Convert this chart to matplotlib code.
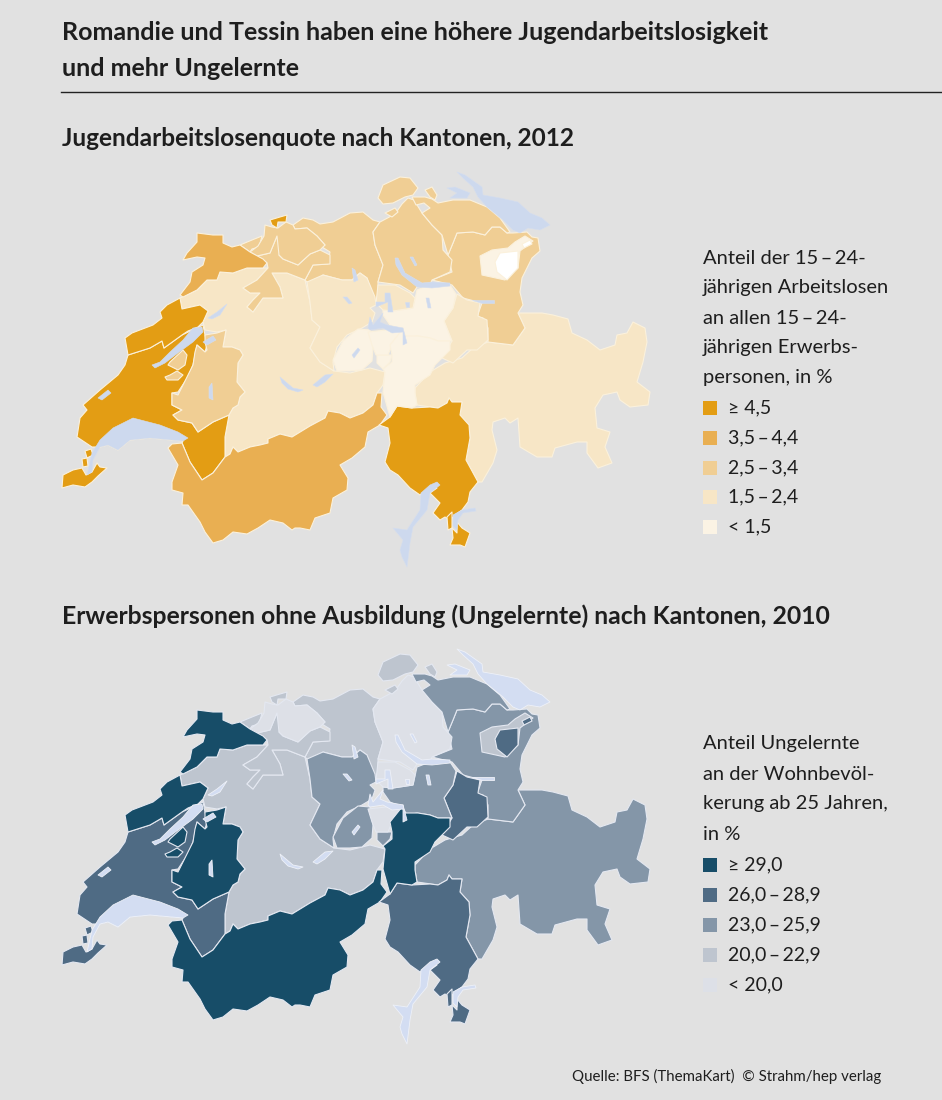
import matplotlib
matplotlib.use("Agg")
import matplotlib.pyplot as plt
from matplotlib.patches import Rectangle

# Canton outlines, in map units of the upper map (a canton can have several parts)
BE = [[(180,298),(197,290),(207,280),(217,280),(220,272),(233,273),(247,268),(263,268),(268,268),(257,280),(243,288),(250,293),(260,293),(253,300),(247,307),(253,312),(263,298),(283,298),(280,287),(272,273),(287,273),(305,280),(310,302),(312,320),(320,327),(310,348),(320,362),(334,371),(350,373),(370,368),(385,372),(383,385),(377,393),(373,405),(363,413),(350,418),(340,413),(328,411),(325,418),(310,426),(292,437),(280,434),(268,439),(268,443),(260,445),(250,447),(238,452),(233,447),(230,454),(225,457),(225,437),(229,415),(233,408),(238,405),(240,397),(245,392),(237,382),(238,363),(243,355),(240,350),(232,347),(223,347),(226,330),(217,332),(205,330),(203,322),(208,311),(200,305),(182,309)]]
VD = [[(128,355),(125,365),(118,375),(100,390),(83,405),(87,410),(80,418),(77,437),(92,447),(100,447),(108,445),(118,450),(130,440),(150,438),(183,441),(182,443),(190,462),(202,480),(213,473),(225,457),(225,437),(229,415),(213,422),(198,432),(192,423),(178,420),(173,415),(182,410),(172,405),(172,393),(178,392),(188,377),(193,365),(197,345),(205,352),(207,345),(205,335),(203,325),(182,335),(164,348),(162,341),(150,348)],
      [(85,451),(91,449),(93,455),(87,458)]]
VS = [[(168,448),(172,444),(182,443),(190,462),(202,480),(213,473),(225,457),(230,454),(233,447),(238,452),(250,447),(260,445),(268,443),(268,439),(280,434),(292,437),(310,426),(325,418),(328,411),(340,413),(350,418),(363,413),(373,405),(377,393),(382,393),(381,407),(387,415),(380,425),(368,432),(365,447),(352,458),(340,465),(348,478),(347,490),(333,498),(330,513),(315,518),(310,530),(300,528),(295,528),(292,530),(283,523),(270,520),(258,528),(247,534),(233,532),(223,540),(213,543),(205,532),(200,522),(188,505),(182,505),(183,493),(172,490),(172,482),(178,465)]]
GR = [[(518,313),(527,313),(542,313),(553,315),(568,319),(572,333),(587,340),(600,350),(615,345),(617,335),(627,333),(633,322),(645,328),(647,342),(643,362),(637,382),(650,392),(648,405),(630,407),(620,400),(617,392),(603,395),(595,408),(597,428),(610,432),(605,447),(612,463),(598,468),(587,453),(587,442),(577,442),(555,448),(552,457),(537,457),(520,447),(518,418),(510,423),(505,418),(493,422),(492,430),(497,450),(493,463),(482,482),(478,482),(466,460),(470,438),(469,425),(460,415),(462,402),(452,402),(449,398),(447,403),(438,408),(417,405),(415,393),(415,388),(430,372),(445,363),(462,358),(473,348),(488,342),(513,345),(525,328)]]
SG = [[(513,233),(527,232),(532,237),(538,238),(540,251),(532,258),(522,278),(520,292),(523,305),(518,313),(525,328),(513,345),(488,342),(488,328),(483,318),(477,317),(482,303),(463,298),(452,285),(432,280),(452,272),(448,255),(453,243),(457,233),(473,232),(485,235),(492,227),(500,227),(507,233)]]
AG = [[(293,225),(303,218),(313,220),(320,224),(333,222),(350,213),(363,212),(373,220),(380,222),(373,232),(375,245),(383,265),(378,282),(378,292),(376,305),(373,298),(367,278),(360,273),(352,280),(342,280),(323,275),(317,282),(307,282),(305,280),(313,265),(328,264),(330,252),(322,247),(325,245),(317,236),(307,228),(295,229)]]
ZH = [[(380,222),(395,214),(402,204),(408,198),(414,200),(422,213),(432,225),(442,235),(443,250),(452,260),(450,272),(432,280),(430,285),(417,287),(413,293),(400,285),(378,282),(383,265),(375,245),(373,232)]]
TG = [[(412,197),(425,197),(432,199),(438,203),(453,200),(470,200),(487,207),(500,218),(510,232),(507,233),(500,227),(492,227),(485,235),(473,232),(457,233),(453,243),(448,255),(442,235),(432,225),(422,213),(430,208),(424,203),(416,205)]]
LU = [[(307,282),(323,275),(342,280),(352,280),(360,273),(367,278),(375,297),(376,305),(370,308),(375,313),(372,322),(362,328),(347,335),(337,347),(333,362),(334,371),(320,362),(310,348),(320,327),(312,320),(310,302)]]
SO = [[(267,263),(257,256),(270,253),(277,236),(290,235),(288,252),(279,255),(283,259),(298,265),(310,254),(320,250),(330,255),(330,264),(313,265),(305,280),(287,273),(272,273),(280,287),(283,298),(263,298),(253,312),(247,307),(253,300),(260,293),(250,293),(243,288),(257,280),(268,268)],
      [(240,245),(252,240),(262,236),(259,247),(252,249),(250,252)]]
BL = [[(250,252),(258,246),(264,236),(265,225),(272,227),(278,228),(286,222),(293,225),(295,229),(307,228),(317,236),(325,245),(320,250),(310,254),(298,265),(283,259),(279,255),(277,236),(270,253),(257,256)]]
JU = [[(197,233),(213,235),(223,235),(223,243),(232,247),(240,245),(250,252),(263,259),(267,263),(263,268),(247,268),(233,273),(220,272),(217,280),(207,280),(197,290),(183,297),(180,295),(190,282),(192,272),(203,265),(205,258),(197,257),(183,260),(187,253),(197,242)]]
NE = [[(125,338),(132,333),(153,325),(162,318),(160,312),(167,305),(180,298),(182,309),(200,305),(208,311),(203,322),(198,327),(188,331),(182,335),(164,348),(162,341),(150,348),(128,355)]]
FR = [[(172,393),(172,405),(182,410),(173,415),(178,420),(192,423),(198,432),(213,422),(229,415),(233,408),(238,405),(240,397),(245,392),(237,382),(238,363),(243,355),(240,350),(232,347),(223,347),(226,330),(217,333),(205,335),(205,342),(207,350),(205,352),(197,345),(195,352),(193,365),(188,375),(178,395)],
      [(170,362),(183,350),(187,355),(185,365),(178,370),(168,365)],
      [(165,377),(170,375),(177,371),(183,375),(178,380),(167,380)]]
GE = [[(62,488),(63,475),(73,470),(82,468),(86,475),(92,472),(97,463),(100,467),(107,468),(98,476),(92,482),(85,487),(73,485)],
      [(82,459),(87,458),(88,466),(83,467)]]
TI = [[(379,425),(390,417),(397,406),(412,408),(430,407),(438,408),(447,403),(449,398),(452,402),(462,402),(460,415),(469,425),(470,438),(466,460),(478,482),(470,492),(468,502),(462,510),(455,515),(450,520),(445,517),(440,520),(433,513),(440,503),(430,493),(437,488),(430,487),(420,495),(410,488),(398,475),(390,470),(385,462),(390,443),(388,428)],
      [(447,517),(452,512),(452,528),(448,530)],
      [(452,528),(457,533),(457,522),(462,528),(470,533),(465,547),(460,545),(450,545),(453,538)]]
SH = [[(378,198),(383,185),(400,177),(410,178),(418,188),(413,195),(405,197),(393,203),(383,204)],
      [(425,190),(432,187),(437,195),(435,200),(430,197)],
      [(385,213),(395,208),(398,212),(392,217)]]
BS = [[(270,220),(280,217),(287,215),(286,222),(278,222),(277,228),(272,225)]]
AR = [[(480,256),(482,275),(505,280),(518,268),(520,251),(533,241),(525,236),(515,242),(508,248),(492,250)]]
AI = [[(500,253),(518,251),(518,268),(507,280),(497,272),(495,262)],
      [(522,244),(530,240),(532,244),(524,248)]]
GL = [[(457,294),(467,300),(480,303),(478,316),(487,320),(488,340),(477,350),(467,350),(453,363),(442,358),(452,341),(444,321),(453,308)]]
SZ = [[(417,290),(430,285),(450,285),(456,294),(453,308),(444,321),(452,341),(438,341),(430,338),(417,336),(407,338),(403,331),(390,325),(383,315),(383,310),(393,311),(413,308)]]
ZG = [[(378,285),(395,285),(410,293),(415,298),(413,308),(393,311),(383,310),(376,303)]]
OW = [[(333,360),(343,341),(358,329),(370,330),(373,348),(372,361),(362,370),(350,371),(337,371)],
      [(377,355),(392,355),(390,362),(383,369),(377,363)]]
NW = [[(368,332),(386,330),(403,328),(405,343),(392,345),(388,355),(376,355),(372,345)]]
UR = [[(390,345),(402,330),(405,336),(418,336),(430,338),(438,341),(450,341),(450,350),(442,358),(435,365),(430,375),(415,385),(415,393),(417,405),(412,408),(397,406),(390,417),(383,392),(385,372),(383,369),(392,362),(392,355)]]

KANTONE = [BE, VD, VS, GR, SG, AG, ZH, TG, LU, SO, BL, JU, NE, FR, GE, TI, SH, BS, AR, AI, GL, SZ, ZG, OW, NW, UR]

# class of each canton, same order as KANTONE (0 = highest class, 5 = AI which is drawn white)
KLASSE_JUGEND = [3, 0, 1, 3, 2, 2, 2, 2, 3, 2, 2, 1, 0, 2, 0, 0, 2, 0, 4, 5, 3, 4, 3, 4, 4, 4]
KLASSE_UNGELERNT = [3, 1, 0, 2, 2, 3, 4, 2, 2, 3, 4, 0, 0, 0, 1, 1, 3, 3, 3, 1, 1, 2, 4, 2, 4, 0]

# Lakes
GENFERSEE = [(87,475),(92,453),(100,440),(113,428),(133,418),(160,425),(178,432),(188,438),(183,441),(150,438),(130,440),(118,450),(108,445),(100,447),(93,460),(92,472)]
NEUENBURGERSEE = [(152,365),(160,362),(170,352),(183,340),(193,328),(202,327),(203,332),(193,342),(178,353),(165,363),(155,368)]
BIELERSEE = [(208,318),(217,312),(227,304),(220,315),(212,319)]
MURTENSEE = [(203,342),(213,336),(216,340),(207,345)]
LAC_DE_JOUX = [(98,398),(108,390),(111,393),(102,400)]
GREYERZERSEE = [(209,387),(212,383),(213,400),(209,398)]
THUNERSEE = [(280,377),(293,388),(303,390),(298,392),(288,389),(282,383)]
BRIENZERSEE = [(313,385),(325,375),(333,374),(325,382),(317,387)]
SEMPACHERSEE = [(343,297),(347,297),(352,303),(349,304)]
BALDEGGERSEE = [(352,268),(355,270),(358,280),(354,282)]
SARNERSEE = [(352,355),(358,348),(360,350),(354,358)]
VIERWALDSTAETTERSEE = [(368,328),(370,317),(373,325),(383,313),(380,322),(387,325),(403,328),(407,343),(403,345),(403,332),(392,333),(383,328),(370,330)]
ZUGERSEE = [(385,293),(390,293),(393,312),(388,312),(388,302),(376,307),(376,302),(385,302)]
AEGERISEE = [(405,302),(409,302),(409,307),(406,307)]
SIHLSEE = [(426,298),(429,298),(431,308),(428,308)]
ZUERICHSEE = [(395,258),(398,258),(405,273),(422,283),(432,282),(450,283),(450,286),(432,288),(417,287),(402,275),(396,265)]
GREIFENSEE = [(410,257),(413,257),(417,265),(415,266)]
WALENSEE = [(472,300),(494,300),(494,303),(482,303)]
BODENSEE = [(457,172),(465,175),(482,187),(483,195),(500,198),(518,202),(530,213),(542,218),(550,225),(540,230),(528,228),(520,233),(513,230),(503,220),(487,207),(478,197),(473,187),(463,178)]
UNTERSEE = [(447,188),(455,187),(470,193),(467,198),(450,198),(457,193)]
LAGO_MAGGIORE = [(437,482),(440,485),(430,493),(427,510),(413,527),(410,543),(407,567),(402,557),(400,550),(403,540),(393,528),(407,530),(420,510),(421,493),(430,485)]
LAGO_LUGANO = [(475,508),(476,511),(463,513),(458,520),(457,530),(453,526),(453,515),(462,510)]

SEEN = [GENFERSEE, NEUENBURGERSEE, BIELERSEE, MURTENSEE, LAC_DE_JOUX, GREYERZERSEE, THUNERSEE, BRIENZERSEE,
        SEMPACHERSEE, BALDEGGERSEE, SARNERSEE, VIERWALDSTAETTERSEE, ZUGERSEE, AEGERISEE, SIHLSEE, ZUERICHSEE,
        GREIFENSEE, WALENSEE, BODENSEE, UNTERSEE, LAGO_MAGGIORE, LAGO_LUGANO]

# Colours and texts
FARBEN_JUGEND = ["#E39D14", "#E9AF52", "#F0CE94", "#F7E6C6", "#FBF3E4", "#FFFFFF"]
FARBEN_UNGELERNT = ["#174D68", "#4F6B84", "#8496A8", "#BEC5CF", "#DDE0E7"]
LEGENDE_JUGEND = ["≥ 4,5", "3,5\u2009–\u20094,4", "2,5\u2009–\u20093,4", "1,5\u2009–\u20092,4", "< 1,5"]
LEGENDE_UNGELERNT = ["≥ 29,0", "26,0\u2009–\u200928,9", "23,0\u2009–\u200925,9", "20,0\u2009–\u200922,9", "< 20,0"]
TITEL_JUGEND = ["Anteil der 15\u2009–\u200924-", "jährigen Arbeitslosen", "an allen 15\u2009–\u200924-", "jährigen Erwerbs-", "personen, in %"]
TITEL_UNGELERNT = ["Anteil Ungelernte", "an der Wohnbevöl-", "kerung ab 25 Jahren,", "in %"]

BG = "#E1E1E1"
W, H = 942, 1100
plt.rcParams["font.family"] = ["Lato", "DejaVu Sans"]

fig = plt.figure(figsize=(W / 100, H / 100), dpi=100, facecolor=BG)
TEXT = "#1E1E1E"


def fy(y):
    return 1 - y / H


def draw_map(top, klassen, farben, kante, see_farbe, see_kante, see_lw):
    # axes spans 620x420 px, data units are px, so both maps use the same outlines
    ax = fig.add_axes([50 / W, 1 - (top + 420) / H, 620 / W, 420 / H])
    ax.set_xlim(50, 670)
    ax.set_ylim(580, 160)
    ax.axis("off")
    for kanton, k in zip(KANTONE, klassen):
        for teil in kanton:
            xs, ys = zip(*teil)
            ax.fill(xs, ys, facecolor=farben[k], edgecolor=kante, linewidth=0.8, joinstyle="round")
    for see in SEEN:
        xs, ys = zip(*see)
        ax.fill(xs, ys, facecolor=see_farbe, edgecolor=see_kante, linewidth=see_lw, joinstyle="round")


draw_map(160, KLASSE_JUGEND, FARBEN_JUGEND, "#FBF1DC", "#CDD9EE", "#D5DEEF", 0.4)
draw_map(637, KLASSE_UNGELERNT, FARBEN_UNGELERNT, "#E4E8F1", "#D3DDF2", "#EEF1F8", 0.6)


def legend(title_lines, title_y, entries, entry_y, farben):
    for line, y in zip(title_lines, title_y):
        fig.text(703 / W, fy(y), line, fontsize=14.5, color=TEXT, va="center")
    for label, y, c in zip(entries, entry_y, farben):
        fig.add_artist(Rectangle((703 / W, fy(y + 7)), 14 / W, 14 / H, transform=fig.transFigure, facecolor=c, edgecolor="none"))
        fig.text(728 / W, fy(y), label, fontsize=14, color=TEXT, va="center")


legend(TITEL_JUGEND, [259, 288, 318, 348, 378], LEGENDE_JUGEND, [408, 438, 468, 497, 527], FARBEN_JUGEND)
legend(TITEL_UNGELERNT, [744, 774, 804, 834], LEGENDE_UNGELERNT, [865, 895, 925, 955, 985], FARBEN_UNGELERNT)

# Headings
fig.text(62 / W, fy(32), "Romandie und Tessin haben eine höhere Jugendarbeitslosigkeit", fontsize=18, fontweight="bold", color=TEXT, va="center")
fig.text(62 / W, fy(69), "und mehr Ungelernte", fontsize=18, fontweight="bold", color=TEXT, va="center")
fig.add_artist(plt.Line2D([61 / W, 1], [fy(92), fy(92)], color="#222222", linewidth=1.0))
fig.text(62 / W, fy(138), "Jugendarbeitslosenquote nach Kantonen, 2012", fontsize=17.6, fontweight="bold", color=TEXT, va="center")
fig.text(62 / W, fy(616), "Erwerbspersonen ohne Ausbildung (Ungelernte) nach Kantonen, 2010", fontsize=17.8, fontweight="bold", color=TEXT, va="center")
fig.text(881 / W, fy(1076), "Quelle: BFS (ThemaKart)  © Strahm/hep verlag", fontsize=10.8, color=TEXT, va="center", ha="right")

fig.savefig("out.png", dpi=100, facecolor=BG)
